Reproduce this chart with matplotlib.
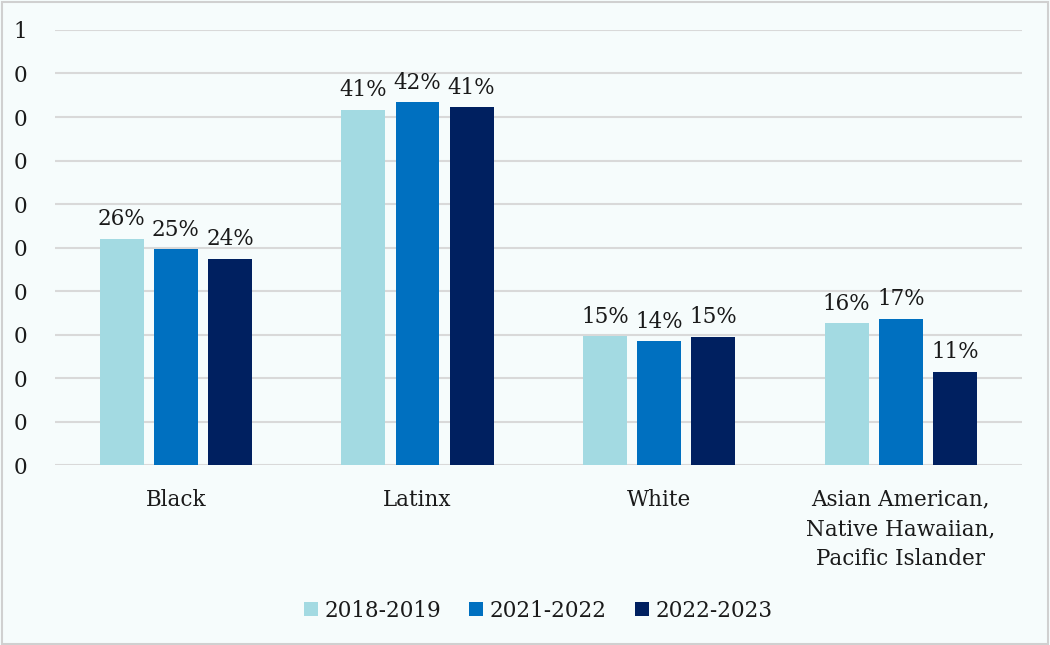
import matplotlib.pyplot as plt
import numpy as np

plt.rcParams['font.family'] = ['DejaVu Serif']

categories = ['Black', 'Latinx', 'White',
              'Asian American,\nNative Hawaiian,\nPacific Islander']
years = ['2018-2019', '2021-2022', '2022-2023']
v_2018 = [0.26, 0.408, 0.148, 0.163]
v_2021 = [0.248, 0.417, 0.142, 0.168]
v_2022 = [0.237, 0.411, 0.147, 0.107]
labels_2018 = ['26%', '41%', '15%', '16%']
labels_2021 = ['25%', '42%', '14%', '17%']
labels_2022 = ['24%', '41%', '15%', '11%']
yticks = np.arange(0, 0.51, 0.05)
ytick_labels = ['0', '0', '0', '0', '0', '0', '0', '0', '0', '0', '1']

colors = ['#A3DAE2', '#0070C0', '#002060']
bg = '#F6FCFC'
txt = '#1A1A1A'
fs = 15.5

fig = plt.figure(figsize=(10.5, 6.45), dpi=100, facecolor=bg)
ax = fig.add_axes([0.0524, 0.279, 0.9206, 0.6745])
ax.set_facecolor(bg)

x = np.arange(len(categories))
width = 0.182
step = 0.224
series = [v_2018, v_2021, v_2022]
texts = [labels_2018, labels_2021, labels_2022]
for i, (vals, labs) in enumerate(zip(series, texts)):
    pos = x + (i - 1) * step
    ax.bar(pos, vals, width, color=colors[i], label=years[i], zorder=3)
    for px, v, t in zip(pos, vals, labs):
        ax.text(px, v + 0.01, t, ha='center', va='bottom', fontsize=fs, color=txt)

ax.set_xlim(-0.5, len(categories) - 0.5)
ax.set_ylim(0, 0.5)
ax.set_yticks(yticks)
ax.set_yticklabels(ytick_labels, fontsize=fs)
ax.set_xticks(x)
ax.set_xticklabels(categories, fontsize=fs, linespacing=1.45)
ax.tick_params(axis='both', length=0, colors=txt)
ax.tick_params(axis='y', pad=20)
ax.tick_params(axis='x', pad=17)
ax.grid(axis='y', color='#D9D9D9', lw=1.5, zorder=0)
for s in ax.spines.values():
    s.set_visible(False)

leg = ax.legend(loc='upper center', bbox_to_anchor=(0.5, -0.265), ncol=3, frameon=False,
                fontsize=fs, handlelength=0.65, handleheight=0.65, handletextpad=0.3,
                columnspacing=1.3)
for t in leg.get_texts():
    t.set_color(txt)

border = plt.Rectangle((0.002, 0.002), 0.996, 0.995, transform=fig.transFigure,
                       fill=False, edgecolor='#D0D0D0', lw=1.5)
fig.patches.append(border)

fig.savefig('out.png', dpi=100, facecolor=bg)
